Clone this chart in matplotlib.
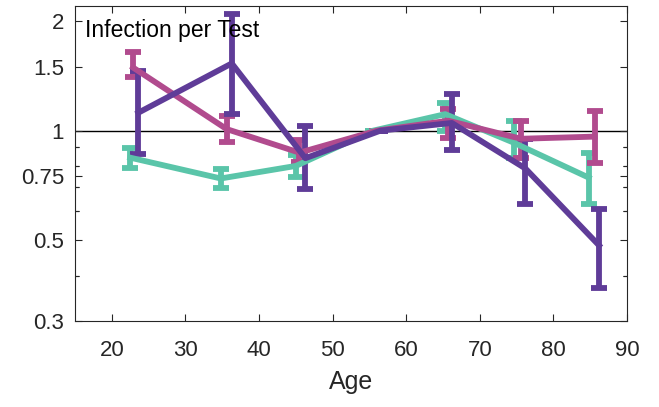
import matplotlib
matplotlib.use("Agg")
import matplotlib.pyplot as plt
from matplotlib.ticker import FixedLocator, NullFormatter, LogLocator

plt.rcParams['font.family'] = ['Liberation Sans', 'DejaVu Sans']

# Data
teal_x = [22.5, 34.8, 45.0, 55.5, 65.3, 74.6, 84.8]
teal_y = [0.843, 0.739, 0.80, 1.0, 1.11, 0.927, 0.743]
teal_lo = [0.792, 0.694, 0.748, 1.0, 1.0, 0.843, 0.63]
teal_hi = [0.898, 0.787, 0.855, 1.0, 1.19, 1.065, 0.87]

mag_x = [22.9, 35.6, 45.5, 56.0, 65.7, 75.6, 85.6]
mag_y = [1.49, 1.01, 0.87, 1.0, 1.065, 0.95, 0.963]
mag_lo = [1.40, 0.93, 0.82, 1.0, 0.957, 0.84, 0.817]
mag_hi = [1.64, 1.10, 0.94, 1.0, 1.15, 1.06, 1.13]

pur_x = [23.6, 36.3, 46.3, 56.5, 66.2, 76.2, 86.2]
pur_y = [1.12, 1.53, 0.84, 1.0, 1.05, 0.787, 0.484]
pur_lo = [0.86, 1.11, 0.69, 1.0, 0.887, 0.627, 0.37]
pur_hi = [1.46, 2.09, 1.03, 1.0, 1.26, 0.95, 0.61]

y_ticks = [0.3, 0.5, 0.75, 1, 1.5, 2]
y_ticklabels = ['0.3', '0.5', '0.75', '1', '1.5', '2']
x_ticks = [20, 30, 40, 50, 60, 70, 80, 90]

series = [
    (teal_x, teal_y, teal_lo, teal_hi, '#5AC5A9'),
    (mag_x, mag_y, mag_lo, mag_hi, '#B14B8E'),
    (pur_x, pur_y, pur_lo, pur_hi, '#5F3C98'),
]

fig = plt.figure(figsize=(6.59, 4.07), dpi=100)
ax = fig.add_axes([75/659, 1-321/407, (627-75)/659, (321-6)/407])
ax.set_yscale('log')

ax.axhline(1.0, color='black', lw=1.0, zorder=1)

for xs, ys, lo, hi, c in series:
    yerr = [[y - l for y, l in zip(ys, lo)], [h - y for y, h in zip(ys, hi)]]
    ax.errorbar(xs, ys, yerr=yerr, color=c, lw=4.2, elinewidth=4.2,
                capsize=5.5, capthick=4.2, zorder=2)

ax.set_xlim(15, 90)
ax.set_ylim(0.3, 2.2)
ax.yaxis.set_major_locator(FixedLocator(y_ticks))
ax.set_yticklabels(y_ticklabels)
ax.yaxis.set_minor_locator(LogLocator(base=10, subs=[0.1*i for i in range(1, 10)] + list(range(1, 10)), numticks=20))
ax.yaxis.set_minor_formatter(NullFormatter())
ax.set_xticks(x_ticks)

ax.tick_params(which='both', direction='in', top=True, right=True,
               colors='#262626', labelsize=16, width=0.8)
ax.tick_params(which='major', length=5)
ax.tick_params(which='minor', length=3)
ax.tick_params(axis='x', pad=14)
ax.tick_params(axis='y', pad=8)
for s in ax.spines.values():
    s.set_color('#262626')
    s.set_linewidth(0.8)

ax.set_xlabel('Age', fontsize=18, color='#262626', labelpad=6)
ax.text(0.019, 0.9016, 'Infection per Test', transform=ax.transAxes,
        fontsize=16.5, color='black', va='baseline', ha='left', zorder=5)

fig.savefig('out.png', dpi=100)
